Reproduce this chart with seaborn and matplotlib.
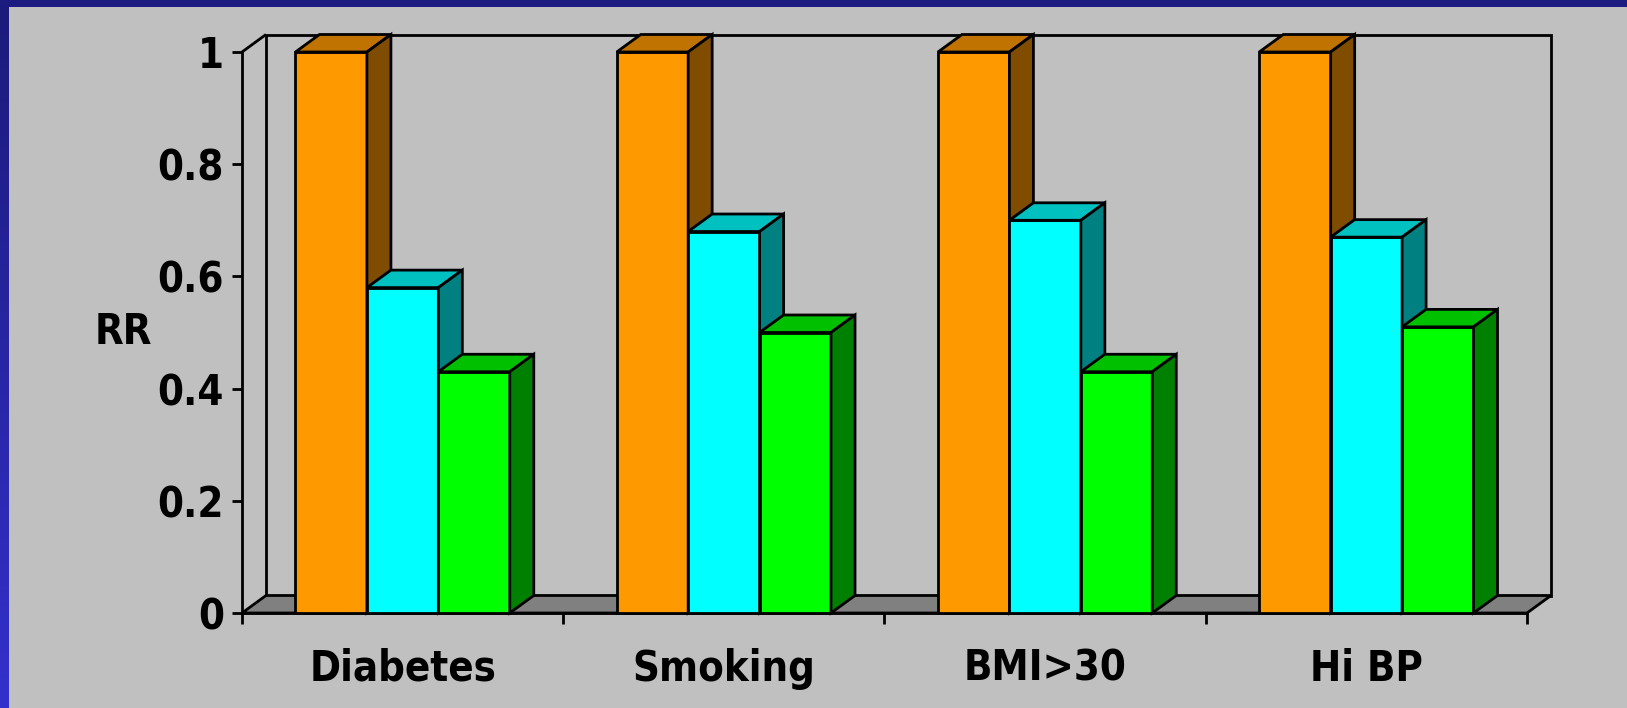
import numpy as np
import pandas as pd
import matplotlib
matplotlib.use("Agg")
import matplotlib.pyplot as plt
import seaborn as sns
from matplotlib import font_manager as fm
from matplotlib.patches import Polygon, Rectangle

# ---- data -------------------------------------------------------------
categories = ["Diabetes", "Smoking", "BMI>30", "Hi BP"]
series_names = ["s1", "s2", "s3"]
s1_values = [1.00, 1.00, 1.00, 1.00]
s2_values = [0.58, 0.68, 0.70, 0.67]
s3_values = [0.43, 0.50, 0.43, 0.51]
y_ticks = [0, 0.2, 0.4, 0.6, 0.8, 1.0]
y_tick_labels = ["0", "0.2", "0.4", "0.6", "0.8", "1"]
y_label = "RR"

# front / top / side shades of each series
face_colors = ["#ff9900", "#00ffff", "#00ff00"]
top_colors = ["#c07300", "#00c0c0", "#00c000"]
side_colors = ["#7f4c00", "#008080", "#008000"]

df = pd.DataFrame({
    "category": categories * 3,
    "series": [s for s in series_names for _ in categories],
    "value": s1_values + s2_values + s3_values,
})

# ---- style ------------------------------------------------------------
sns.set_style("ticks")

# prefer a narrow sans face if one is installed
installed = fm.fontManager.ttflist
names = {f.name for f in installed}
stretch = "normal"
FS = 33
if "Liberation Sans Narrow" in names:
    family = ["Liberation Sans Narrow", "DejaVu Sans"]
elif any(f.name == "DejaVu Sans" and "Condensed" in f.fname for f in installed):
    family = ["DejaVu Sans"]
    stretch = "condensed"
    FS = 30
else:
    family = ["Liberation Sans", "DejaVu Sans"]
    FS = 29

plt.rcParams["font.family"] = family
plt.rcParams["font.stretch"] = stretch
plt.rcParams["font.weight"] = "bold"
for key in ["text.color", "axes.labelcolor", "xtick.color", "ytick.color"]:
    plt.rcParams[key] = "black"

BG = "#c0c0c0"
LW = 2.0
W, H = 1627, 708
fig = plt.figure(figsize=(W / 100, H / 100), dpi=100, facecolor=BG)

# slide frame: gradient strip on the left, navy band along the top
strip = fig.add_axes([0, 0, 9 / W, 1])
grad = np.linspace(0, 1, 256)[:, None]
r = 27 + (52 - 27) * grad
g = 27 + (48 - 27) * grad
b = 122 + (204 - 122) * grad
strip.imshow(np.dstack([r, g, b]) / 255.0, aspect="auto", extent=[0, 1, 0, 1], origin="upper")
strip.set_axis_off()
fig.patches.append(Rectangle((0, 1 - 7 / H), 1, 7 / H, transform=fig.transFigure,
                             facecolor="#1c1c80", edgecolor="none", zorder=5))

# plot area (front plane of the 3-D box)
ax = fig.add_axes([242 / W, 95 / H, 1285 / W, 561 / H])
ax.set_facecolor("none")

sns.barplot(data=df, x="category", y="value", hue="series",
            order=categories, hue_order=series_names,
            palette=face_colors, saturation=1, width=0.667, gap=0,
            edgecolor="black", linewidth=LW, legend=False, ax=ax)
bars = sorted(ax.patches, key=lambda p: p.get_x())

ax.set_xlim(-0.5, 3.5)
ax.set_ylim(0, 1)

# depth offset of the 3-D effect, in data units
dx = 24 * 4 / 1285
dy = 17.5 / 561

# back wall and floor
ax.add_patch(Rectangle((-0.5 + dx, dy), 4, 1, facecolor=BG, edgecolor="black",
                       linewidth=LW, zorder=0.5, clip_on=False))
ax.add_patch(Polygon([(-0.5, 0), (3.5, 0), (3.5 + dx, dy), (-0.5 + dx, dy)],
                     closed=True, facecolor="#808080", edgecolor="black",
                     linewidth=LW, zorder=1, clip_on=False))
ax.plot([-0.5, -0.5 + dx], [1, 1 + dy], color="black", linewidth=LW,
        zorder=1, clip_on=False, solid_capstyle="butt")

# top and side faces of every bar
n_cat = len(categories)
for i, bar in enumerate(bars):
    s_idx = i % 3
    z = 2 + i
    x0 = bar.get_x()
    w = bar.get_width()
    h = bar.get_height()
    bar.set_zorder(z)
    bar.set_clip_on(False)
    top = Polygon([(x0, h), (x0 + w, h), (x0 + w + dx, h + dy), (x0 + dx, h + dy)],
                  closed=True, facecolor=top_colors[s_idx], edgecolor="black",
                  linewidth=LW, zorder=z, clip_on=False, joinstyle="miter")
    side = Polygon([(x0 + w, 0), (x0 + w + dx, dy), (x0 + w + dx, h + dy), (x0 + w, h)],
                   closed=True, facecolor=side_colors[s_idx], edgecolor="black",
                   linewidth=LW, zorder=z, clip_on=False, joinstyle="miter")
    ax.add_patch(top)
    ax.add_patch(side)

# axes
for side_name in ["top", "right"]:
    ax.spines[side_name].set_visible(False)
for side_name in ["left", "bottom"]:
    ax.spines[side_name].set_color("black")
    ax.spines[side_name].set_linewidth(LW)
    ax.spines[side_name].set_zorder(1.5)

ax.set_yticks(y_ticks, y_tick_labels)
ax.tick_params(axis="y", direction="out", length=7, width=LW, pad=6,
               labelsize=FS, colors="black")
ax.set_xticks(range(n_cat), categories)
ax.set_xticks(np.arange(-0.5, n_cat, 1.0), minor=True)
ax.tick_params(axis="x", which="major", length=0, pad=25, labelsize=FS,
               colors="black")
ax.tick_params(axis="x", which="minor", direction="out", length=8, width=LW,
               colors="black")
for lab in ax.get_xticklabels() + ax.get_yticklabels():
    lab.set_fontweight("bold")
    lab.set_fontstretch(stretch)

ax.set_xlabel("")
ax.set_ylabel(y_label, rotation=0, fontsize=FS, fontweight="bold",
              fontstretch=stretch, color="black", ha="center", va="center")
ax.yaxis.set_label_coords(-0.0926, 0.501)

fig.savefig("out.png", dpi=100, facecolor=BG)
